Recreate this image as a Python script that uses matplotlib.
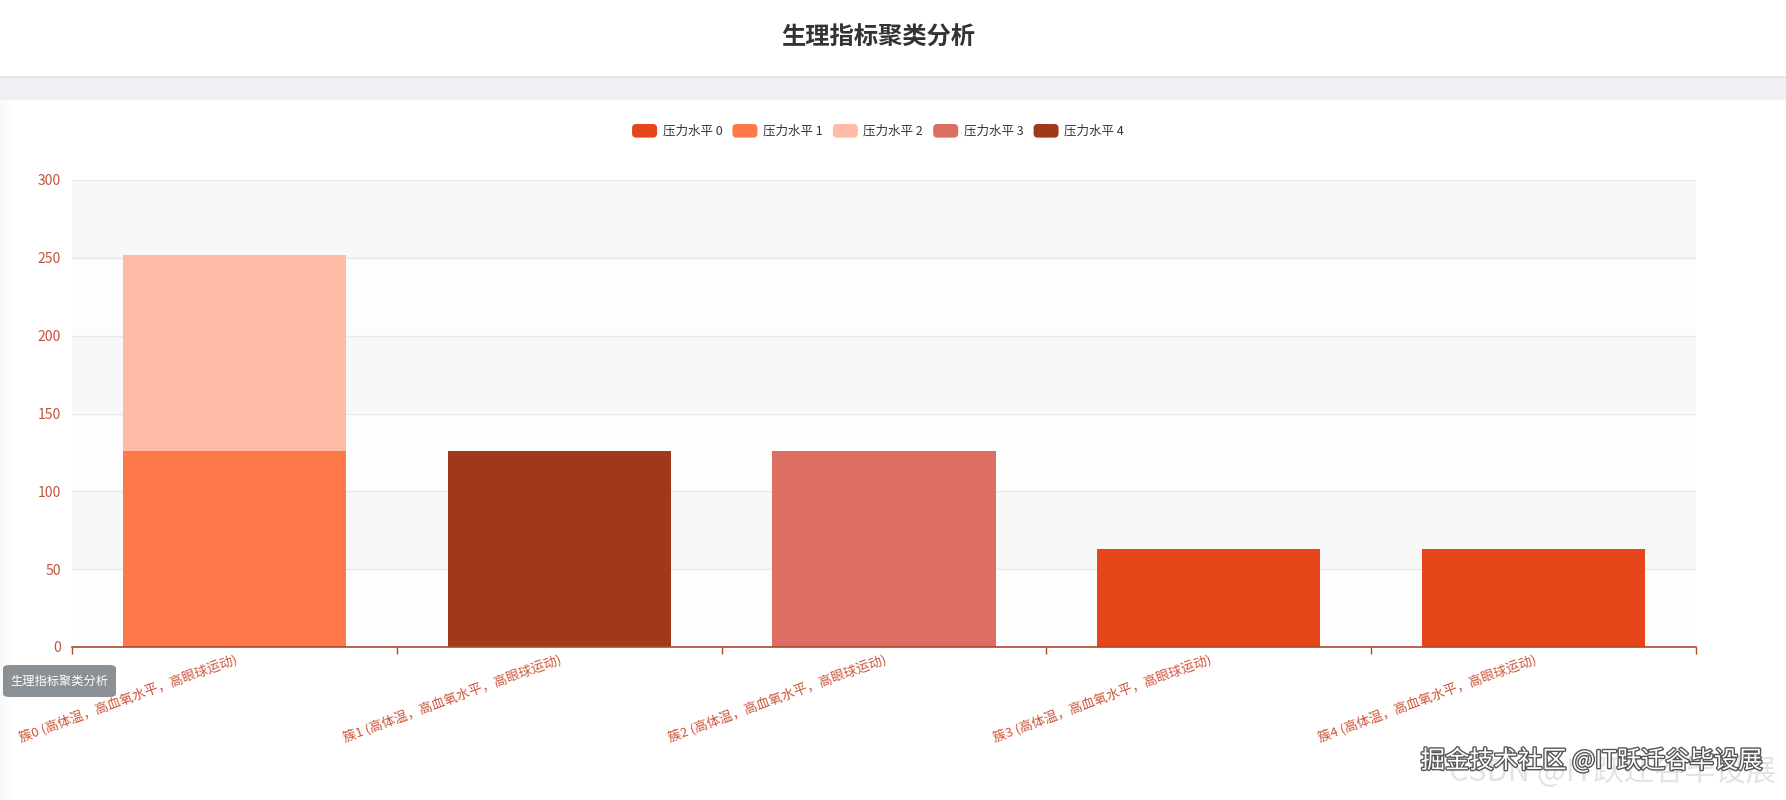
import numpy as np
import matplotlib
matplotlib.use("Agg")
from matplotlib import pyplot as plt
from matplotlib.patches import FancyBboxPatch, Rectangle
from matplotlib.legend_handler import HandlerPatch
import matplotlib.patheffects as pe

plt.rcParams['font.family'] = ['Noto Sans CJK SC', 'DejaVu Sans']

# --- data ---
TITLE = "生理指标聚类分析"
clusters = [
    "簇0 (高体温，高血氧水平，高眼球运动)",
    "簇1 (高体温，高血氧水平，高眼球运动)",
    "簇2 (高体温，高血氧水平，高眼球运动)",
    "簇3 (高体温，高血氧水平，高眼球运动)",
    "簇4 (高体温，高血氧水平，高眼球运动)",
]
series_names = ["压力水平 0", "压力水平 1", "压力水平 2", "压力水平 3", "压力水平 4"]
level0 = [0, 0, 0, 63, 63]
level1 = [126, 0, 0, 0, 0]
level2 = [126, 0, 0, 0, 0]
level3 = [0, 0, 126, 0, 0]
level4 = [0, 126, 0, 0, 0]
series_values = [level0, level1, level2, level3, level4]
colors = ["#e64619", "#ff7849", "#ffbba6", "#dc6e63", "#a0391a"]
y_ticks = [0, 50, 100, 150, 200, 250, 300]

W, H = 1786, 800
fig = plt.figure(figsize=(W / 100, H / 100), dpi=100)
fig.patch.set_facecolor("white")


def fx(px):
    return px / W


def fy(py):
    return 1 - py / H


class RoundHandler(HandlerPatch):
    # echarts-like rounded legend swatch
    def create_artists(self, legend, orig_handle, xdescent, ydescent, width, height, fontsize, trans):
        face = orig_handle.patches[0].get_facecolor()
        p = FancyBboxPatch((-xdescent, -ydescent), width, height,
                           boxstyle="round,pad=0,rounding_size=3",
                           facecolor=face, edgecolor="none", transform=trans)
        return [p]


# page background: top card, grey gap, lower card with soft left shadow
fig.add_artist(Rectangle((0, fy(100)), 1, fy(76) - fy(100), transform=fig.transFigure,
                         facecolor="#eef0f3", edgecolor="none", zorder=0))
fig.add_artist(Rectangle((0, fy(78)), 1, fy(76) - fy(78), transform=fig.transFigure,
                         facecolor="#e4e6ea", edgecolor="none", zorder=0))
for i in range(14):
    a = 0.05 * (1 - i / 14)
    fig.add_artist(Rectangle((fx(i), 0), fx(1), fy(100), transform=fig.transFigure,
                             facecolor="black", alpha=a * 0.5, edgecolor="none", zorder=0))

fig.text(fx(878), fy(38), TITLE, ha="center", va="center", fontsize=17.5,
         fontweight="bold", color="#333333")

ax = fig.add_axes([fx(72), fy(647), fx(1696) - fx(72), fy(180) - fy(647)])
ax.set_facecolor("none")

x = np.arange(len(clusters))
bottom = np.zeros(len(clusters))
handles = []
for name, vals, c in zip(series_names, series_values, colors):
    vals = np.array(vals, dtype=float)
    b = ax.bar(x, vals, width=0.687, bottom=bottom, color=c, label=name,
               edgecolor="none", zorder=3)
    handles.append(b)
    bottom += vals

ax.set_xlim(-0.5, len(clusters) - 0.5)
ax.set_ylim(0, 300)

# split area bands + grid lines
for i in range(len(y_ticks) - 1):
    col = "#f8f8f8" if i % 2 == 1 else "#fdfdfd"
    ax.axhspan(y_ticks[i], y_ticks[i + 1], color=col, zorder=0, lw=0)
for t in y_ticks[1:]:
    ax.axhline(t, color="#e8e8e8", lw=1, zorder=1)

ax.set_yticks(y_ticks)
ax.tick_params(axis="y", length=0, pad=8, labelsize=10, labelcolor="#c0553b")
for s in ["left", "right", "top"]:
    ax.spines[s].set_visible(False)
ax.spines["bottom"].set_color("#b04a2a")
ax.spines["bottom"].set_linewidth(1.2)
ax.spines["bottom"].set_zorder(4)

ax.set_xticks(np.arange(-0.5, len(clusters)), minor=False)
ax.set_xticklabels([])
ax.tick_params(axis="x", length=5, color="#b04a2a", width=1)
for xi, lab in zip(x, clusters):
    ax.text(xi, -4, lab, rotation=20, rotation_mode="anchor", ha="right", va="top",
            fontsize=9.5, color="#cf553a", transform=ax.transData, clip_on=False)

leg = fig.legend(handles=handles, labels=series_names, loc="center",
                 bbox_to_anchor=(fx(878), fy(131)), ncol=5, frameon=False,
                 fontsize=9, handlelength=2.0, handleheight=1.3, columnspacing=0.8,
                 handletextpad=0.45,
                 handler_map={type(handles[0]): RoundHandler()})
for t in leg.get_texts():
    t.set_color("#333333")

# tooltip box
fig.add_artist(FancyBboxPatch((fx(3), fy(697)), fx(113), fy(665) - fy(697),
                              boxstyle="round,pad=0,rounding_size=0.004",
                              transform=fig.transFigure, facecolor="#7b8187",
                              edgecolor="none", alpha=0.88, zorder=10))
fig.text(fx(59), fy(681), TITLE, ha="center", va="center", fontsize=8.8,
         color="white", zorder=11)

# watermark
fig.text(fx(1776), fy(772), "CSDN @IT跃迁谷毕设展", ha="right", va="center",
         fontsize=22, color="#e3e3e3", zorder=11)
fig.text(fx(1762), fy(761), "掘金技术社区 @IT跃迁谷毕设展", ha="right", va="center",
         fontsize=17.5, color="white", zorder=12,
         path_effects=[pe.withStroke(linewidth=2, foreground="#555555")])

plt.savefig("out.png", dpi=100)
